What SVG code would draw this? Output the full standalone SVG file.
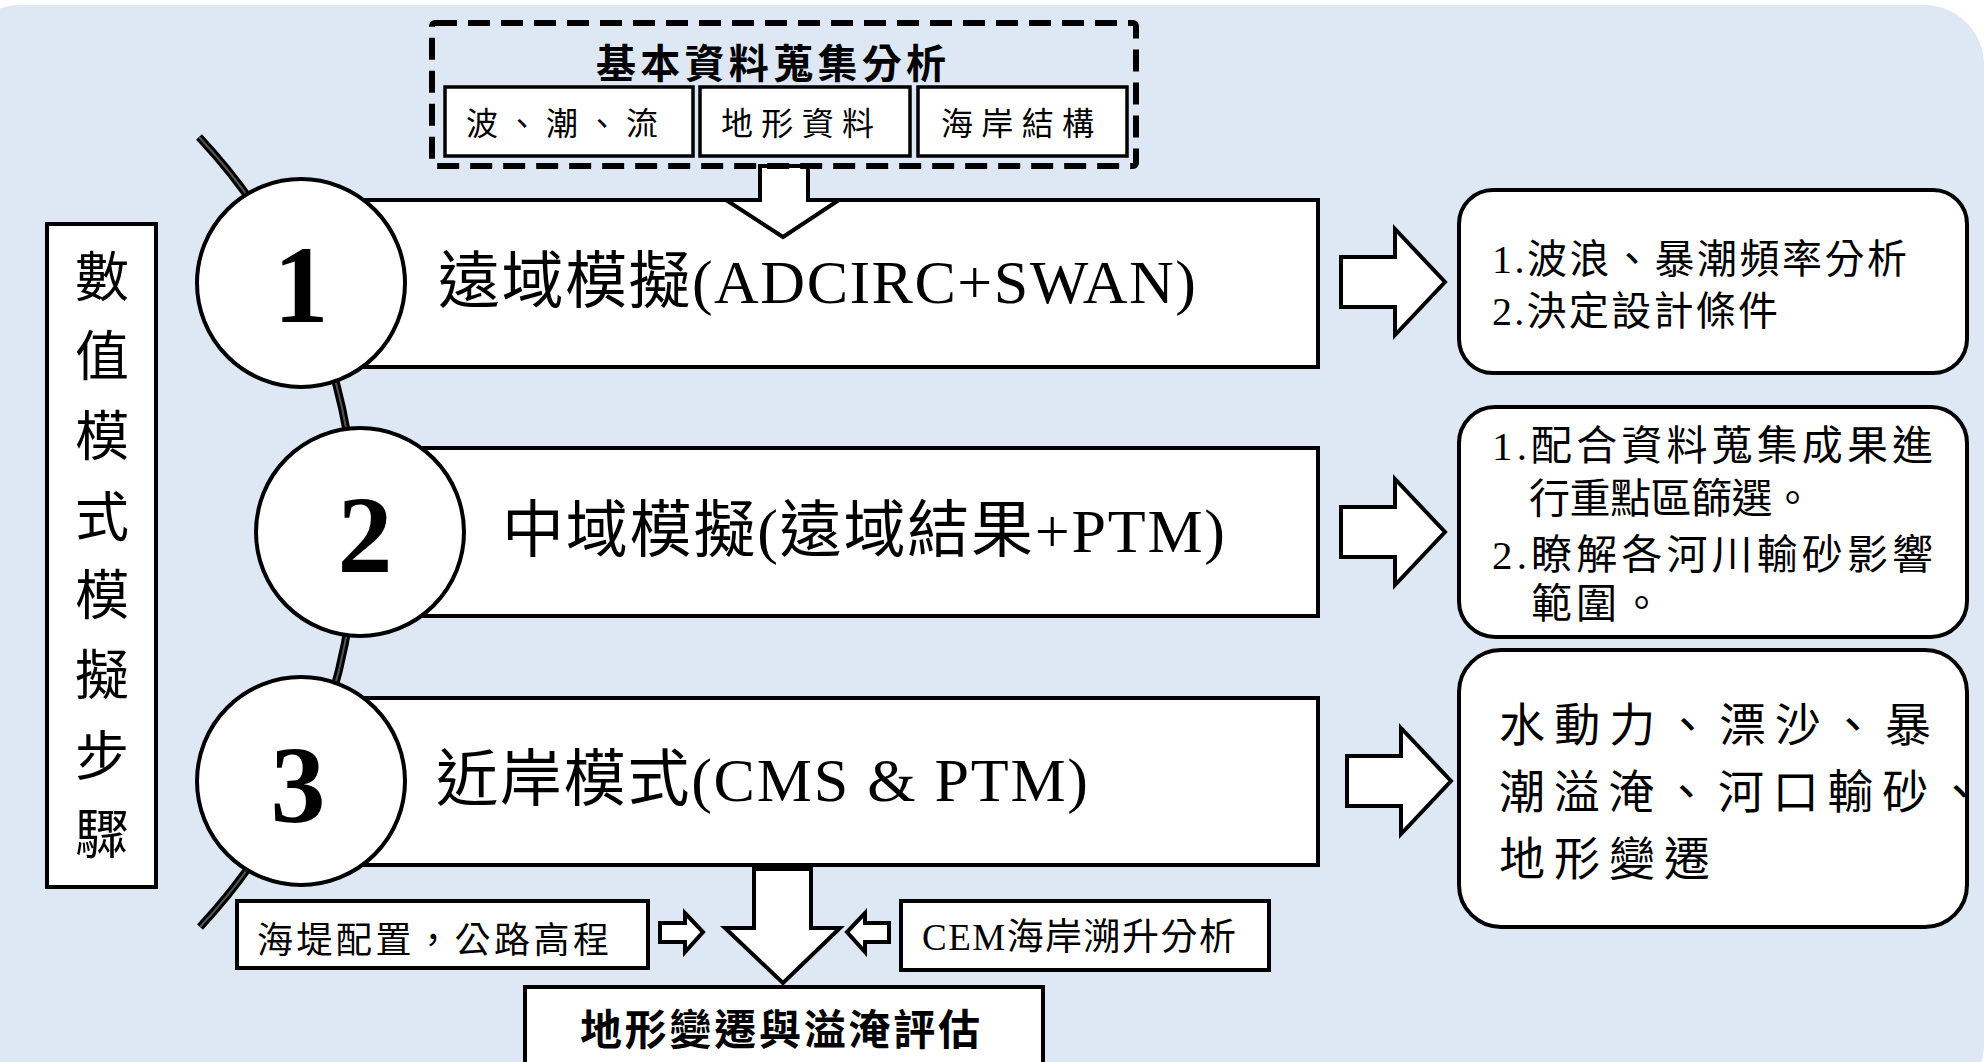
<svg xmlns="http://www.w3.org/2000/svg" width="1984" height="1062" viewBox="0 0 1984 1062">
<style>
.t{font-family:"Liberation Serif","Noto Sans CJK TC",serif;fill:#000}
.b{fill:#fff;stroke:#000;stroke-width:4}
.bt{fill:#fff;stroke:#000;stroke-width:3.5}
.ar{fill:#fff;stroke:#000;stroke-width:4;stroke-linejoin:miter}
.num{font-family:"Liberation Serif",serif;font-weight:bold;font-size:110px;text-anchor:middle}
</style>
<rect x="-40" y="5" width="2024" height="1100" rx="60" fill="#dde8f4"/>

<g id="connectors">
<path d="M199,137 A578,578 0 0 1 200,927" fill="none" stroke="#000" stroke-width="8"/>
<path d="M199,137 A578,578 0 0 1 200,927" fill="none" stroke="#555" stroke-width="2"/>
</g>

<g id="node-steps">
<rect class="b" x="47" y="224" width="109" height="663"/>
<text class="t" font-size="54" text-anchor="middle" dominant-baseline="central">
<tspan x="102" y="279">數</tspan><tspan x="102" y="358">值</tspan><tspan x="102" y="438">模</tspan><tspan x="102" y="519">式</tspan><tspan x="102" y="597">模</tspan><tspan x="102" y="677">擬</tspan><tspan x="102" y="758">步</tspan><tspan x="102" y="836">驟</tspan>
</text>
</g>

<g id="node-bar1">
<rect class="b" x="300" y="200" width="1018" height="167"/>
<text class="t" x="438" y="303" font-size="62" textLength="758" lengthAdjust="spacing">遠域模擬(ADCIRC+SWAN)</text>
</g>
<g id="node-bar2">
<rect class="b" x="360" y="448" width="958" height="168"/>
<text class="t" x="502" y="552" font-size="62" textLength="723" lengthAdjust="spacing">中域模擬(遠域結果+PTM)</text>
</g>
<g id="node-bar3">
<rect class="b" x="300" y="698" width="1018" height="167"/>
<text class="t" x="436" y="801" font-size="62" textLength="652" lengthAdjust="spacing">近岸模式(CMS &amp; PTM)</text>
</g>

<g id="connectors-arrows">
<polygon class="ar" points="760,166 808,166 808,200 839,200 783,237 726,200 760,200"/>
<polygon class="ar" points="1341,257 1395,257 1395,229 1445,282 1395,335 1395,307 1341,307"/>
<polygon class="ar" points="1341,507 1395,507 1395,479 1445,532 1395,585 1395,557 1341,557"/>
<polygon class="ar" points="1347,756 1401,756 1401,728 1451,781 1401,834 1401,806 1347,806"/>
<polygon class="ar" points="754,869 811,869 811,928 840,928 783,983 725,928 754,928"/>
<polygon class="ar" points="660,923 685,923 685,913 703,932 685,952 685,942 660,942"/>
<polygon class="ar" points="889,923 865,923 865,913 847,932 865,952 865,942 889,942"/>
</g>

<g id="node-circle1">
<circle class="b" cx="301" cy="283" r="104"/>
<text class="num" x="301" y="322">1</text>
</g>
<g id="node-circle2">
<circle class="b" cx="360" cy="532" r="104"/>
<text class="num" x="365" y="572">2</text>
</g>
<g id="node-circle3">
<circle class="b" cx="301" cy="781" r="104"/>
<text class="num" x="298" y="822">3</text>
</g>

<g id="node-basic-data">
<rect x="432" y="23" width="704" height="143" rx="3" fill="none" stroke="#000" stroke-width="6" stroke-dasharray="22 11"/>
<text class="t" x="596" y="78" font-size="40" font-weight="bold" textLength="350" lengthAdjust="spacing">基本資料蒐集分析</text>
<rect class="bt" x="445" y="87" width="248" height="69"/>
<text class="t" x="466" y="135" font-size="32" textLength="192" lengthAdjust="spacing">波、潮、流</text>
<rect class="bt" x="700" y="87" width="210" height="69"/>
<text class="t" x="721" y="135" font-size="32" textLength="153" lengthAdjust="spacing">地形資料</text>
<rect class="bt" x="918" y="87" width="209" height="69"/>
<text class="t" x="941" y="135" font-size="32" textLength="153" lengthAdjust="spacing">海岸結構</text>
</g>

<g id="node-result1">
<rect class="b" x="1459" y="190" width="508" height="183" rx="34"/>
<text class="t" x="1492" y="273" font-size="40" textLength="415" lengthAdjust="spacing">1.波浪、暴潮頻率分析</text>
<text class="t" x="1492" y="325" font-size="40" textLength="286" lengthAdjust="spacing">2.決定設計條件</text>
</g>
<g id="node-result2">
<rect class="b" x="1459" y="407" width="508" height="230" rx="36"/>
<text class="t" x="1492" y="460" font-size="41" textLength="441" lengthAdjust="spacing">1.配合資料蒐集成果進</text>
<text class="t" x="1529" y="513" font-size="41" textLength="284" lengthAdjust="spacing">行重點區篩選。</text>
<text class="t" x="1492" y="569" font-size="41" textLength="441" lengthAdjust="spacing">2.瞭解各河川輸砂影響</text>
<text class="t" x="1531" y="618" font-size="41" textLength="131" lengthAdjust="spacing">範圍。</text>
</g>
<g id="node-result3">
<rect class="b" x="1459" y="650" width="508" height="277" rx="42"/>
<text class="t" x="1499" y="741" font-size="46" textLength="432" lengthAdjust="spacing">水動力、漂沙、暴</text>
<text class="t" x="1499" y="808" font-size="46" textLength="484" lengthAdjust="spacing">潮溢淹、河口輸砂、</text>
<text class="t" x="1499" y="875" font-size="46" textLength="211" lengthAdjust="spacing">地形變遷</text>
</g>

<g id="node-seawall">
<rect class="b" x="237" y="901" width="411" height="67"/>
<text class="t" x="257" y="953" font-size="36" textLength="352" lengthAdjust="spacing">海堤配置，公路高程</text>
</g>
<g id="node-cem">
<rect class="b" x="901" y="901" width="368" height="69"/>
<text class="t" x="922" y="950" font-size="37" textLength="314" lengthAdjust="spacing">CEM海岸溯升分析</text>
</g>
<g id="node-assessment">
<rect class="b" x="525" y="987" width="518" height="100"/>
<text class="t" x="580" y="1045" font-size="42" font-weight="bold" textLength="400" lengthAdjust="spacing">地形變遷與溢淹評估</text>
</g>
</svg>
